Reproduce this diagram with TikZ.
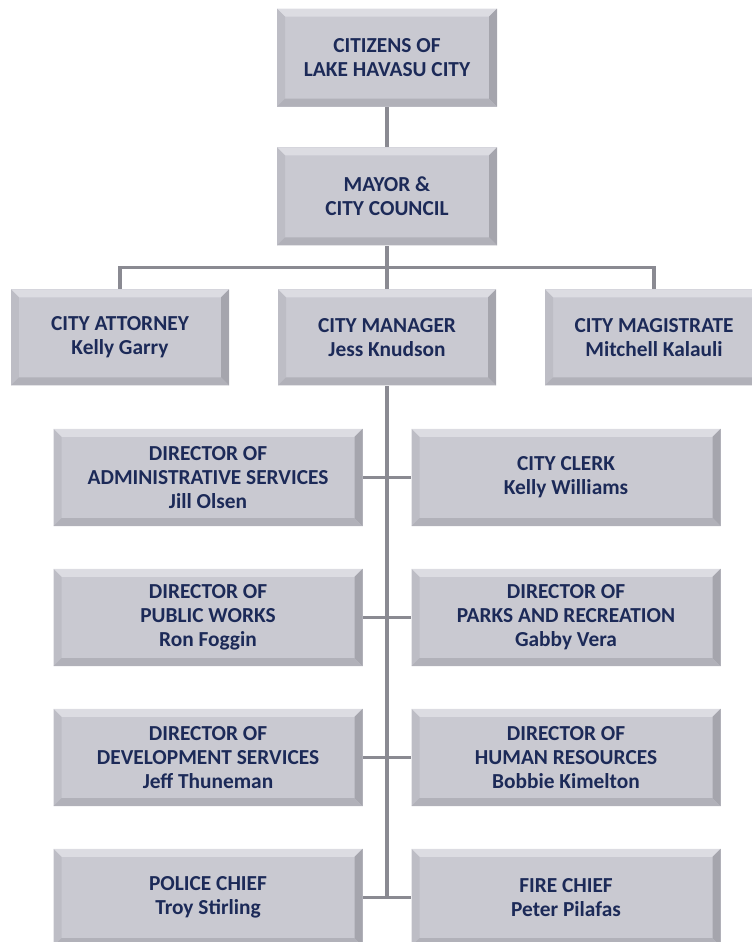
\documentclass[tikz,border=0pt]{standalone}
\usepackage{fontspec}
\setmainfont{Carlito}
\usetikzlibrary{calc}

\definecolor{boxface}{HTML}{C9C9D1}
\definecolor{bevtop}{HTML}{DCDCE2}
\definecolor{bevleft}{HTML}{BDBDC5}
\definecolor{bevright}{HTML}{A5A5AD}
\definecolor{bevbot}{HTML}{B1B1B9}
\definecolor{navy}{HTML}{1C2A58}
\definecolor{linkgray}{HTML}{8A8A92}

\begin{document}
\begin{tikzpicture}[node distance = 3.5cm, semithick]
  \tikzstyle{bevel} = [path picture={
      \fill[bevtop] (path picture bounding box.north west) -- (path picture bounding box.north east)
        -- ([shift={(-.2,-.2)}]path picture bounding box.north east)
        -- ([shift={(.2,-.2)}]path picture bounding box.north west) -- cycle;
      \fill[bevleft] (path picture bounding box.north west) -- (path picture bounding box.south west)
        -- ([shift={(.2,.2)}]path picture bounding box.south west)
        -- ([shift={(.2,-.2)}]path picture bounding box.north west) -- cycle;
      \fill[bevright] (path picture bounding box.north east) -- (path picture bounding box.south east)
        -- ([shift={(-.2,.2)}]path picture bounding box.south east)
        -- ([shift={(-.2,-.2)}]path picture bounding box.north east) -- cycle;
      \fill[bevbot] (path picture bounding box.south west) -- (path picture bounding box.south east)
        -- ([shift={(-.2,.2)}]path picture bounding box.south east)
        -- ([shift={(.2,.2)}]path picture bounding box.south west) -- cycle;
    }]
  \tikzstyle{block} = [rectangle, fill=boxface, bevel, text=navy, align=center,
    font=\bfseries\fontsize{15.2}{17}\selectfont, inner sep=0pt,
    minimum width=5.5cm, minimum height=2.45cm]
  \tikzstyle{office} = [block, minimum width=5.45cm, minimum height=2.4cm]
  \tikzstyle{director} = [block, minimum width=7.725cm, minimum height=2.43cm]
  \tikzstyle{line} = [draw, linkgray, line width=2.5pt]

  \useasboundingbox (0,0) rectangle (18.8,-23.55);

  % Place nodes
  \node [block] (citizens) at (9.675,-1.44) {CITIZENS OF\\LAKE HAVASU CITY};
  \node [block, below of=citizens, node distance=3.47cm] (mayor) {MAYOR \&\\CITY COUNCIL};
  \node [office, below of=mayor, node distance=3.525cm] (manager) {CITY MANAGER\\Jess Knudson};
  \node [office, left of=manager, node distance=6.675cm] (attorney) {CITY ATTORNEY\\Kelly Garry};
  \node [office, right of=manager, node distance=6.675cm] (magistrate) {CITY MAGISTRATE\\Mitchell Kalauli};

  \node [director, below of=manager, node distance=3.5cm, xshift=-4.475cm] (admin)
        {DIRECTOR OF\\ADMINISTRATIVE SERVICES\\Jill Olsen};
  \node [director, right of=admin, node distance=8.95cm] (clerk) {CITY CLERK\\Kelly Williams};
  \node [director, below of=admin] (works) {DIRECTOR OF\\PUBLIC WORKS\\Ron Foggin};
  \node [director, right of=works, node distance=8.95cm] (parks)
        {DIRECTOR OF\\PARKS AND RECREATION\\Gabby Vera};
  \node [director, below of=works] (devel) {DIRECTOR OF\\DEVELOPMENT SERVICES\\Jeff Thuneman};
  \node [director, right of=devel, node distance=8.95cm] (hr)
        {DIRECTOR OF\\HUMAN RESOURCES\\Bobbie Kimelton};
  \node [director, below of=devel] (police) {POLICE CHIEF\\Troy Stirling};
  \node [director, right of=police, node distance=8.95cm] (fire) {FIRE CHIEF\\Peter Pilafas};

  % Draw edges
  \path [line] (citizens) -- (mayor);
  \path [line] (mayor) -- (manager);
  \path [line] (attorney.north) |- ($(mayor.south)!.5!(manager.north)$) -| (magistrate.north);

  \path [line] (manager) -- (manager |- police);
  \path [line] (admin) -- (clerk);
  \path [line] (works) -- (parks);
  \path [line] (devel) -- (hr);
  \path [line] (police) -- (fire);

\end{tikzpicture}
\end{document}
